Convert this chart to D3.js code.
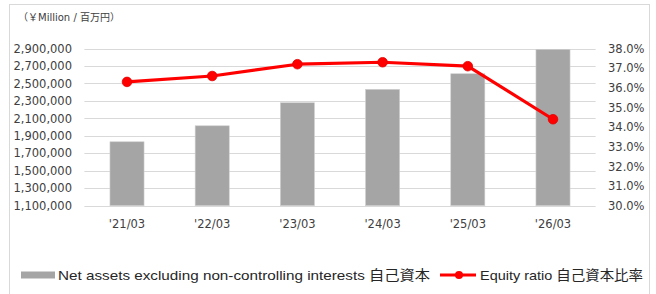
<!DOCTYPE html>
<html>
<head>
<meta charset="utf-8">
<script src="https://cdn.jsdelivr.net/npm/d3@7"></script>
<style>
  body { margin: 0; background: #fff; }
  svg { display: block; }
</style>
</head>
<body>
<div id="my_dataviz"></div>
<script>
// data
const years = ["'21/03", "'22/03", "'23/03", "'24/03", "'25/03", "'26/03"];
const netAssets = [1832000, 2015000, 2279000, 2432000, 2611000, 2890000]; // 自己資本 (¥ million)
const equityRatio = [36.3, 36.6, 37.2, 37.3, 37.1, 34.4]; // 自己資本比率 (%)
const leftTicks = [1100000, 1300000, 1500000, 1700000, 1900000, 2100000, 2300000, 2500000, 2700000, 2900000];
const rightTicks = [30, 31, 32, 33, 34, 35, 36, 37, 38];

const W = 656, H = 294;
// plot area
const plot = { left: 84.4, right: 595.6, top: 48.5, bottom: 205.7 };
const tickFont = "'DejaVu Sans', Verdana, sans-serif";

const svg = d3.select("#my_dataviz")
    .append("svg")
    .attr("width", W)
    .attr("height", H);

// outer chart border (right/left/top, bottom is cut off)
svg.append("rect")
    .attr("x", 9.5).attr("y", 4.5)
    .attr("width", 640).attr("height", 300)
    .attr("fill", "none")
    .attr("stroke", "#d9d9d9");

// unit label
svg.append("text")
    .attr("x", 18).attr("y", 21)
    .style("font-family", "'DejaVu Sans', 'Noto Sans CJK JP', sans-serif")
    .style("font-size", "10px")
    .style("fill", "#404040")
    .text("（￥Million / 百万円）");

const x = d3.scaleBand()
    .domain(years)
    .range([plot.left, plot.right])
    .paddingInner(0.6)
    .paddingOuter(0.3);

const yLeft = d3.scaleLinear()
    .domain([1100000, 2900000])
    .range([plot.bottom, plot.top]);

const yRight = d3.scaleLinear()
    .domain([30, 38])
    .range([plot.bottom, plot.top]);

// gridlines (left axis)
svg.append("g")
    .selectAll("line")
    .data(leftTicks)
    .join("line")
    .attr("x1", plot.left).attr("x2", plot.right)
    .attr("y1", d => Math.round(yLeft(d)) + 0.5)
    .attr("y2", d => Math.round(yLeft(d)) + 0.5)
    .attr("stroke", "#d9d9d9")
    .attr("stroke-width", 1);

// left axis labels
svg.append("g")
    .selectAll("text")
    .data(leftTicks)
    .join("text")
    .attr("x", 72)
    .attr("y", d => yLeft(d))
    .attr("dy", "0.36em")
    .attr("text-anchor", "end")
    .style("font-family", tickFont)
    .style("font-size", "11.5px")
    .style("fill", "#404040")
    .text(d => d3.format(",")(d));

// right axis labels
svg.append("g")
    .selectAll("text")
    .data(rightTicks)
    .join("text")
    .attr("x", 608)
    .attr("y", d => yRight(d))
    .attr("dy", "0.36em")
    .style("font-family", tickFont)
    .style("font-size", "11.5px")
    .style("fill", "#404040")
    .text(d => d.toFixed(1) + "%");

// category labels
svg.append("g")
    .selectAll("text")
    .data(years)
    .join("text")
    .attr("x", d => x(d) + x.bandwidth() / 2)
    .attr("y", 224)
    .attr("dy", "0.36em")
    .attr("text-anchor", "middle")
    .style("font-family", tickFont)
    .style("font-size", "11.5px")
    .style("fill", "#404040")
    .text(d => d);

// bars
svg.append("g")
    .selectAll("rect")
    .data(years)
    .join("rect")
    .attr("x", d => x(d))
    .attr("width", x.bandwidth())
    .attr("y", (d, i) => yLeft(netAssets[i]))
    .attr("height", (d, i) => plot.bottom - yLeft(netAssets[i]))
    .attr("fill", "#a5a5a5")
    .attr("stroke", "#cfcfcf")
    .attr("stroke-width", 0.6);

// equity ratio line
const pts = years.map((d, i) => [x(d) + x.bandwidth() / 2, yRight(equityRatio[i])]);
svg.append("path")
    .datum(pts)
    .attr("d", d3.line())
    .attr("fill", "none")
    .attr("stroke", "#ff0000")
    .attr("stroke-width", 3.2)
    .attr("stroke-linejoin", "round");

svg.append("g")
    .selectAll("circle")
    .data(pts)
    .join("circle")
    .attr("cx", d => d[0])
    .attr("cy", d => d[1])
    .attr("r", 4.8)
    .attr("fill", "#ff0000")
    .attr("stroke", "#e60000")
    .attr("stroke-width", 0.8);

// legend
const legendFont = "'Liberation Sans', Arial, 'Noto Sans CJK JP', sans-serif";
const legY = 275;
svg.append("rect")
    .attr("x", 21).attr("y", legY - 3.5)
    .attr("width", 34).attr("height", 7)
    .attr("fill", "#a5a5a5");

const t1 = svg.append("text")
    .attr("x", 58).attr("y", legY)
    .attr("dy", "0.36em")
    .style("font-family", legendFont)
    .style("font-size", "13.5px")
    .style("fill", "#262626")
    .text("Net assets excluding non-controlling interests  自己資本");

svg.append("line")
    .attr("x1", 440).attr("x2", 476)
    .attr("y1", legY).attr("y2", legY)
    .attr("stroke", "#ff0000")
    .attr("stroke-width", 3.2);
svg.append("circle")
    .attr("cx", 459).attr("cy", legY)
    .attr("r", 4)
    .attr("fill", "#ff0000");

const t2 = svg.append("text")
    .attr("x", 480).attr("y", legY)
    .attr("dy", "0.36em")
    .style("font-family", legendFont)
    .style("font-size", "13.5px")
    .style("fill", "#262626")
    .text("Equity ratio 自己資本比率");

// squeeze legend text to the widths seen in the picture
t1.attr("textLength", 372).attr("lengthAdjust", "spacingAndGlyphs");
t2.attr("textLength", 163).attr("lengthAdjust", "spacingAndGlyphs");
</script>
</body>
</html>
